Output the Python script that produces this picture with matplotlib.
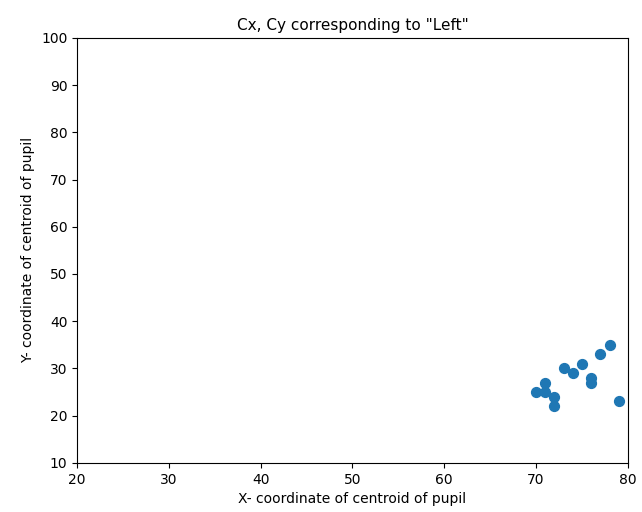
import matplotlib
matplotlib.use("Agg")
import matplotlib.pyplot as plt

cx = [78, 77, 75, 73, 74, 76, 76, 71, 70, 71, 72, 72, 79]
cy = [35, 33, 31, 30, 29, 28, 27, 27, 25, 25, 24, 22, 23]

fig = plt.figure(figsize=(6.42, 5.12), dpi=100)
ax = fig.add_axes([0.12, 0.096, 0.858, 0.83])
ax.scatter(cx, cy, color='#1f77b4', s=50)
ax.set_xlim(20, 80)
ax.set_ylim(10, 100)
ax.set_title('Cx, Cy corresponding to "Left"', fontsize=11)
ax.set_xlabel("X- coordinate of centroid of pupil")
ax.set_ylabel("Y- coordinate of centroid of pupil")

fig.savefig("out.png", dpi=100)
